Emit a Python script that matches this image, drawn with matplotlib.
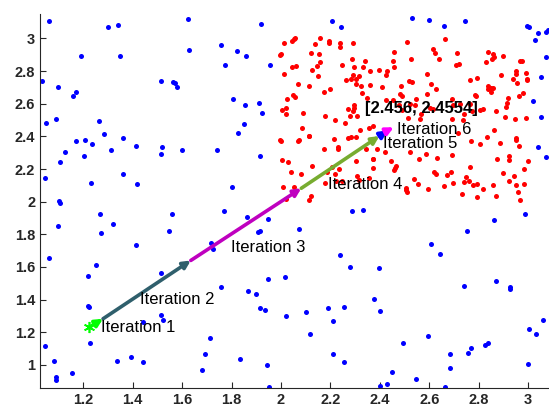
import numpy as np
import matplotlib
matplotlib.use('Agg')
import matplotlib.pyplot as plt
from matplotlib.ticker import FuncFormatter

plt.rcParams['font.family'] = ['Liberation Sans', 'DejaVu Sans']

# blue points (outside the target square)
blue_pts = [
    (1.062, 3.108), (1.301, 3.067), (1.339, 3.080), (1.622, 3.120), (1.626, 2.928),
    (1.191, 2.894), (1.347, 2.890), (1.032, 2.741), (1.099, 2.702), (1.170, 2.672),
    (1.158, 2.645), (1.513, 2.741), (1.564, 2.735), (1.570, 2.728), (1.578, 2.702),
    (1.050, 2.480), (1.090, 2.506), (1.265, 2.494),
    (1.045, 2.146), (1.107, 2.245), (1.125, 2.303), (1.169, 2.370), (1.208, 2.378),
    (1.234, 2.355), (1.284, 2.413), (1.362, 2.388), (1.204, 2.280), (1.313, 2.319),
    (1.413, 2.341), (1.520, 2.335), (1.514, 2.292), (1.598, 2.317), (1.359, 2.172),
    (1.232, 2.117), (1.416, 2.107), (1.100, 2.003), (1.106, 1.993), (1.269, 1.924),
    (1.320, 1.862), (1.273, 1.809), (1.560, 1.924), (1.547, 1.820), (1.099, 1.852),
    (1.413, 1.734), (1.062, 1.654), (1.253, 1.615),
    (1.219, 1.542), (1.516, 1.566), (1.220, 1.364), (1.222, 1.358), (1.516, 1.306),
    (1.524, 1.273), (1.442, 1.265), (1.228, 1.132), (1.045, 1.118), (1.081, 1.026),
    (1.088, 0.924), (1.088, 0.910), (1.154, 0.951), (1.338, 1.026), (1.392, 1.051),
    (1.442, 1.016),
    (1.756, 2.957), (1.823, 2.922), (1.857, 2.890), (1.773, 2.835), (1.957, 2.835),
    (1.919, 3.090), (2.207, 3.106), (2.242, 3.071), (1.807, 2.627), (1.853, 2.592),
    (1.911, 2.602), (1.922, 2.545), (1.849, 2.478), (1.827, 2.419),
    (2.531, 3.126), (2.600, 3.110), (2.659, 3.077), (2.744, 3.108), (2.994, 3.077),
    (3.002, 3.071), (3.038, 3.030), (3.070, 3.037), (3.081, 3.051), (3.029, 2.992),
    (3.070, 2.886), (3.053, 2.761), (3.018, 2.617), (3.053, 2.517),
    (3.041, 2.337), (3.072, 2.276), (2.987, 1.927), (2.860, 1.889), (2.754, 1.821),
    (2.608, 1.740), (2.643, 1.679), (2.396, 1.595),
    (1.742, 2.317), (1.913, 2.282), (1.802, 2.091), (1.768, 1.940), (1.864, 1.907),
    (1.948, 1.895), (1.907, 1.815), (1.913, 1.821), (2.071, 1.834), (1.718, 1.746),
    (1.726, 1.711), (2.286, 1.940), (2.333, 1.950), (2.237, 1.671), (2.279, 1.603),
    (1.758, 1.477), (1.946, 1.528), (2.017, 1.536), (1.866, 1.454), (1.900, 1.434),
    (2.375, 1.407), (2.400, 1.328), (1.916, 1.346), (1.936, 1.334), (2.021, 1.297),
    (2.101, 1.324), (2.190, 1.346), (2.209, 1.267), (2.253, 1.355), (1.711, 1.167),
    (2.117, 1.191), (1.694, 1.067), (1.833, 1.034), (1.682, 0.967), (1.942, 0.998),
    (2.209, 1.065), (2.253, 1.018), (1.950, 0.867),
    (2.740, 1.485), (2.870, 1.516), (2.925, 1.477), (2.928, 1.467), (3.061, 1.275),
    (3.004, 1.222), (3.031, 1.189), (2.495, 1.136), (2.596, 1.175), (2.683, 1.065),
    (2.683, 0.983), (2.758, 1.075), (2.767, 1.106), (2.825, 1.124), (2.838, 1.132),
    (2.999, 1.006), (2.450, 0.957), (2.546, 0.912), (2.429, 0.884), (2.400, 0.871),
    (2.665, 0.863),
]

# red points (inside the target square)
red_pts = [
    (2.013, 2.969), (2.043, 2.984), (2.051, 2.994), (2.056, 3.000), (1.996, 2.898),
    (2.001, 2.904), (2.120, 2.912), (2.139, 2.963), (2.156, 3.000), (2.155, 2.906),
    (2.193, 2.986), (2.195, 2.973), (2.238, 2.971), (2.240, 2.945), (2.292, 2.969),
    (2.044, 2.827), (2.059, 2.833), (2.156, 2.855), (2.147, 2.831), (2.124, 2.808),
    (2.149, 2.770), (2.011, 2.782), (2.246, 2.837), (2.287, 2.871), (2.338, 2.859),
    (2.296, 2.825), (2.331, 2.822), (2.358, 2.798), (2.395, 2.804), (2.261, 2.743),
    (2.283, 2.753), (2.291, 2.774), (2.303, 2.749), (2.315, 2.767), (2.303, 2.723),
    (2.323, 2.710), (2.361, 2.712), (2.070, 2.721), (2.113, 2.708), (2.174, 2.674),
    (2.199, 2.688), (2.327, 2.663), (2.346, 2.635), (2.050, 2.653), (2.056, 2.639),
    (2.023, 2.631), (2.002, 2.564), (2.021, 2.572), (2.020, 2.539), (2.089, 2.541),
    (2.269, 2.570), (2.294, 2.590), (2.296, 2.576), (2.292, 2.557), (2.278, 2.523),
    (2.309, 2.525), (2.176, 2.525), (2.218, 2.498), (2.257, 2.482), (2.086, 2.453),
    (2.113, 2.402), (2.073, 2.376), (1.997, 2.376), (2.321, 2.441), (2.356, 2.449),
    (2.371, 2.466), (2.216, 2.382), (2.269, 2.390), (2.284, 2.394), (2.302, 2.398),
    (2.510, 2.977), (2.665, 2.996), (2.456, 2.914), (2.527, 2.873), (2.452, 2.863),
    (2.458, 2.827), (2.616, 2.935), (2.623, 2.908), (2.639, 2.875), (2.710, 2.908),
    (2.708, 2.837), (2.721, 2.845), (2.838, 2.914), (2.859, 2.902), (2.860, 2.884),
    (2.855, 2.876), (2.830, 2.857), (2.898, 2.894), (2.967, 2.863), (2.976, 2.863),
    (2.430, 2.798), (2.426, 2.774), (2.516, 2.737), (2.528, 2.733), (2.590, 2.780),
    (2.607, 2.723), (2.407, 2.704), (2.485, 2.710), (2.764, 2.745), (2.794, 2.759),
    (2.890, 2.776), (2.949, 2.802), (2.950, 2.782), (2.937, 2.753), (2.992, 2.786),
    (2.994, 2.753), (2.995, 2.743), (2.954, 2.725), (2.838, 2.708), (2.836, 2.692),
    (2.848, 2.694), (2.857, 2.694), (2.850, 2.672), (2.783, 2.655), (2.787, 2.649),
    (2.690, 2.631), (2.628, 2.692), (2.592, 2.659), (2.483, 2.657), (2.488, 2.645),
    (2.545, 2.627), (2.452, 2.625), (2.423, 2.625), (2.963, 2.649), (2.977, 2.663),
    (2.918, 2.633), (2.914, 2.604), (2.910, 2.578), (2.697, 2.594), (2.722, 2.598),
    (2.766, 2.598), (2.520, 2.596), (2.543, 2.594), (2.476, 2.594), (2.491, 2.562),
    (2.603, 2.572), (2.616, 2.568), (2.774, 2.557), (2.806, 2.562), (2.817, 2.568),
    (2.871, 2.555), (2.907, 2.517), (2.948, 2.506), (2.992, 2.513), (2.740, 2.535),
    (2.735, 2.500), (2.693, 2.508), (2.565, 2.535), (2.562, 2.506), (2.512, 2.511),
    (2.861, 2.441), (2.717, 2.419), (2.834, 2.394), (2.949, 2.390),
    (2.768, 2.374), (2.803, 2.356), (2.886, 2.360), (2.950, 2.376), (2.961, 2.339),
    (2.390, 2.323), (2.422, 2.302), (2.520, 2.305), (2.588, 2.292), (2.690, 2.284),
    (2.559, 2.264), (2.632, 2.266), (2.373, 2.264), (2.373, 2.205), (2.445, 2.246),
    (2.465, 2.221), (2.460, 2.209), (2.457, 2.196), (2.537, 2.141), (2.553, 2.109),
    (2.505, 2.086), (2.507, 2.070), (2.508, 2.060), (2.593, 2.080), (2.617, 2.182),
    (2.625, 2.172), (2.671, 2.162), (2.688, 2.180), (2.660, 2.097), (2.697, 2.113),
    (2.763, 2.213), (2.747, 2.150), (2.740, 2.123), (2.762, 2.127), (2.776, 2.101),
    (2.791, 2.109), (2.731, 2.046), (2.793, 2.029), (2.817, 2.080), (2.857, 2.101),
    (2.868, 2.035), (2.872, 2.262), (2.923, 2.280), (2.923, 2.256), (2.899, 2.176),
    (2.942, 2.158), (2.923, 2.127), (2.949, 2.105), (2.957, 2.058), (2.968, 2.011),
    (2.981, 2.199), (2.998, 2.248), (2.981, 2.109),
    (1.998, 2.372), (2.070, 2.372), (2.113, 2.404), (2.175, 2.323), (2.229, 2.337),
    (2.229, 2.323), (2.002, 2.256), (2.027, 2.241), (2.039, 2.180), (2.079, 2.172),
    (2.124, 2.217), (2.184, 2.180), (2.206, 2.211), (2.218, 2.172), (2.233, 2.199),
    (2.303, 2.252), (2.371, 2.264), (2.342, 2.321), (2.307, 2.158), (2.315, 2.133),
    (2.354, 2.146), (2.178, 2.117), (2.221, 2.129), (2.245, 2.125), (2.010, 2.088),
    (2.052, 2.088), (2.020, 2.017), (2.114, 2.009), (2.121, 2.037),
]

# iterate positions
path_x = [1.225, 1.280, 1.635, 2.082, 2.398, 2.432, 2.456]
path_y = [1.232, 1.283, 1.640, 2.082, 2.402, 2.437, 2.4554]
iter_labels = ['Iteration 1', 'Iteration 2', 'Iteration 3',
               'Iteration 4', 'Iteration 5', 'Iteration 6']
iter_colors = ['#00ff00', '#2f5f6c', '#bf00bf', '#77ac30', '#0000ff', '#ff00ff']
label_xy = [(1.272, 1.228), (1.429, 1.404), (1.796, 1.720),
            (2.189, 2.103), (2.414, 2.358), (2.468, 2.443)]
final_text = '[2.456, 2.4554]'

blue = np.array(blue_pts)
red = np.array(red_pts)

fig = plt.figure(figsize=(5.49, 4.09), dpi=100)
ax = fig.add_axes([40 / 549, 21.3 / 409, 1 - 40 / 549, 373.7 / 409])

ax.scatter(blue[:, 0], blue[:, 1], s=13, color='#0000ff', linewidths=0, zorder=2)
ax.scatter(red[:, 0], red[:, 1], s=13, color='#ff0000', linewidths=0, zorder=2)

for i in range(len(iter_labels)):
    ax.annotate('', xy=(path_x[i + 1], path_y[i + 1]), xytext=(path_x[i], path_y[i]),
                arrowprops=dict(arrowstyle='-|>', color=iter_colors[i], lw=2.6,
                                mutation_scale=11, shrinkA=0, shrinkB=0), zorder=3)
    ax.text(label_xy[i][0], label_xy[i][1], iter_labels[i], fontsize=12,
            ha='left', va='center', color='black', zorder=4)

ax.plot(path_x[0], path_y[0], marker=(6, 2, 0), color='#00ff00', ms=8, mew=1.2,
        linestyle='none', zorder=4)
ax.text(2.340, 2.568, final_text, fontsize=12, fontweight='bold',
        ha='left', va='center', color='black', zorder=4)

ax.set_xlim(1.025, 3.084)
ax.set_ylim(0.861, 3.149)
ax.set_xticks(np.arange(1.2, 3.01, 0.2))
ax.set_yticks(np.arange(1.0, 3.01, 0.2))
fmt = FuncFormatter(lambda v, p: '%g' % round(v, 2))
ax.xaxis.set_major_formatter(fmt)
ax.yaxis.set_major_formatter(fmt)
for s in ['top', 'right']:
    ax.spines[s].set_visible(False)
for s in ['left', 'bottom']:
    ax.spines[s].set_color('#262626')
    ax.spines[s].set_linewidth(0.8)
ax.tick_params(direction='in', length=4, width=0.8, color='#262626',
               labelsize=10.5, labelcolor='#262626')
for lab in ax.get_xticklabels() + ax.get_yticklabels():
    lab.set_fontweight('bold')

fig.savefig('out.png', dpi=100)
